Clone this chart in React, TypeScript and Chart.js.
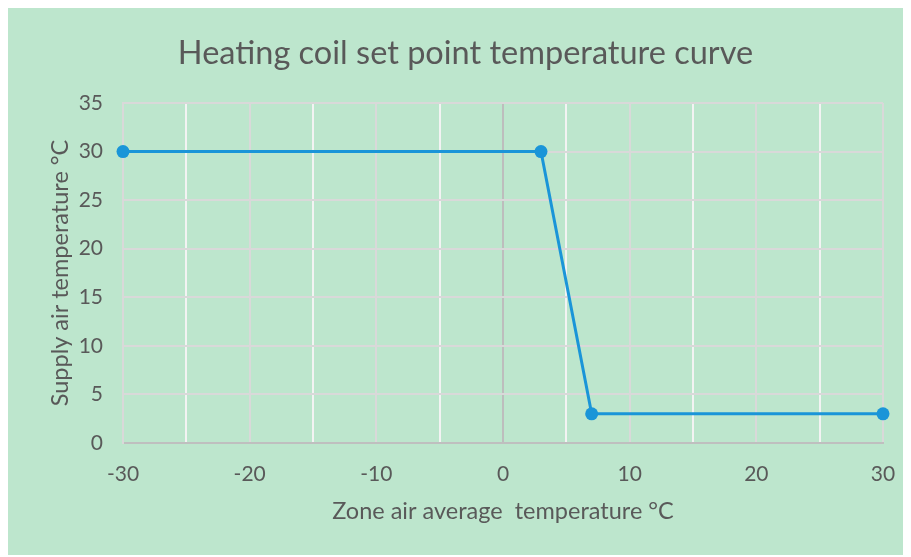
import { useEffect, useRef } from 'react';
import { Chart, registerables } from 'chart.js';

Chart.register(...registerables);

const zoneAirTemps = [-30, 3, 7, 30];
const supplyAirTemps = [30, 30, 3, 3];
const xTickValues = [-30, -20, -10, 0, 10, 20, 30];
const yTickValues = [0, 5, 10, 15, 20, 25, 30, 35];

const chartTitle = 'Heating coil set point temperature curve';
const xAxisTitle = 'Zone air average  temperature °C';
const yAxisTitle = 'Supply air temperature °C';

const BG = '#bde6cd';
const TEXT = '#595959';
const LINE = '#1a95d8';
const FONT = 'Lato, "Open Sans", sans-serif';

export default function App() {
  const canvasRef = useRef<HTMLCanvasElement | null>(null);

  useEffect(() => {
    const canvas = canvasRef.current;
    if (!canvas) return;
    const chart = new Chart(canvas, {
      type: 'scatter',
      data: {
        datasets: [
          {
            label: 'Set point',
            data: zoneAirTemps.map((x, i) => ({ x, y: supplyAirTemps[i] })),
            showLine: true,
            clip: false,
            borderColor: LINE,
            backgroundColor: LINE,
            borderWidth: 3,
            pointRadius: 6.5,
            pointHoverRadius: 6.5,
            pointBorderWidth: 0,
          },
        ],
      },
      options: {
        animation: false,
        responsive: false,
        maintainAspectRatio: false,
        layout: { padding: { left: 12, right: 0, top: 0, bottom: 0 } },
        plugins: {
          legend: { display: false },
          tooltip: { enabled: false },
          title: {
            display: true,
            text: chartTitle,
            color: TEXT,
            font: { family: FONT, size: 32.5, weight: 'normal' },
            padding: { top: 26, bottom: 95 - 26 - 32.5 * 1.2 },
          },
        },
        scales: {
          x: {
            type: 'linear',
            min: -30,
            max: 30,
            afterFit: (s: any) => {
              s.height = 112;
            },
            afterBuildTicks: (s: any) => {
              const t: any[] = [];
              for (let v = -30; v <= 30; v += 5) t.push({ value: v });
              s.ticks = t;
            },
            ticks: {
              color: TEXT,
              font: { family: FONT, size: 21 },
              padding: 0,
              maxRotation: 0,
              autoSkip: false,
              callback: (v: any) => (xTickValues.includes(Number(v)) ? String(v) : ''),
            },
            grid: {
              drawTicks: true,
              tickLength: 19,
              tickColor: 'rgba(0,0,0,0)',
              lineWidth: 2,
              color: (ctx: any) => {
                const v = ctx.tick ? ctx.tick.value : 1;
                if (v === 0) return '#bdbdbd';
                if (v % 10 === 0) return '#d9d9d9';
                return '#f3f3f3';
              },
            },
            border: { display: true, color: '#bfbfbf', width: 2 },
            title: {
              display: true,
              text: xAxisTitle,
              color: TEXT,
              font: { family: FONT, size: 23.5 },
              padding: { top: 0, bottom: 29 },
            },
          },
          y: {
            type: 'linear',
            min: 0,
            max: 35,
            afterFit: (s: any) => {
              s.width = 103;
            },
            afterBuildTicks: (s: any) => {
              s.ticks = yTickValues.map((v) => ({ value: v }));
            },
            ticks: {
              color: TEXT,
              font: { family: FONT, size: 21 },
              padding: 20,
            },
            grid: {
              drawTicks: false,
              lineWidth: 2,
              color: '#d9d9d9',
            },
            border: { display: true, color: '#d9d9d9', width: 2 },
            title: {
              display: true,
              text: yAxisTitle,
              color: TEXT,
              font: { family: FONT, size: 23.5 },
              padding: { top: 26, bottom: 0 },
            },
          },
          spacer: {
            type: 'linear',
            position: 'right',
            display: true,
            afterFit: (s: any) => {
              s.width = 28;
            },
            ticks: { display: false },
            grid: { display: false, drawTicks: false },
            border: { display: false },
          },
        },
      },
    });
    return () => chart.destroy();
  }, []);

  return (
    <div style={{ width: 903, height: 547, background: BG }}>
      <canvas ref={canvasRef} width={903} height={547} style={{ display: 'block' }} />
    </div>
  );
}
